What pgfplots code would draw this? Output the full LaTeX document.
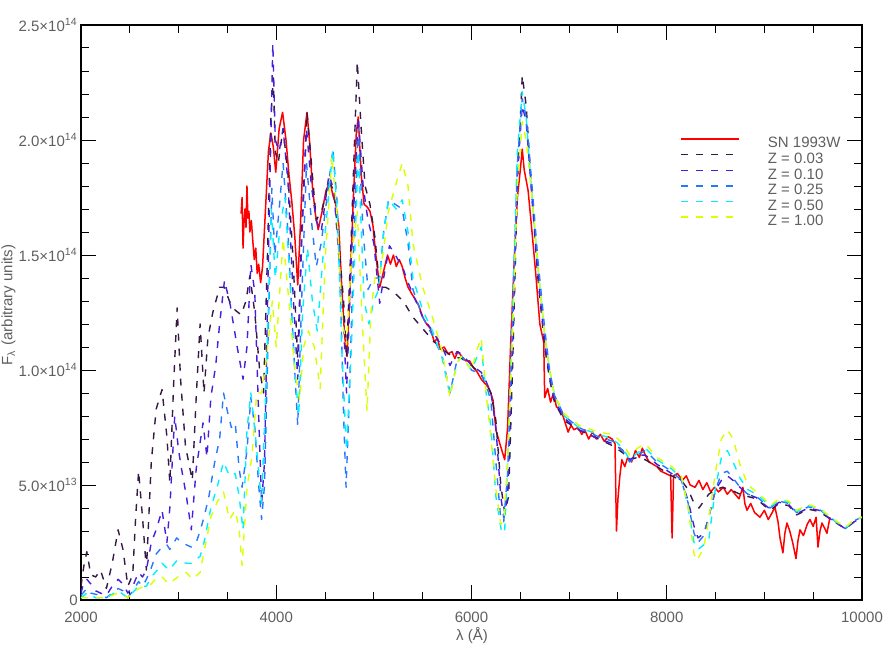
\documentclass[border=0pt]{standalone}
\usepackage{fontspec}
\setmainfont{Liberation Sans}
\usepackage{pgfplots}
\pgfplotsset{compat=1.18}
\usepackage{pgfplotstable}
\usetikzlibrary{calc}

\definecolor{tgray}{RGB}{95,95,95}
\definecolor{snred}{RGB}{255,0,0}
\definecolor{zA}{RGB}{55,25,70}
\definecolor{zB}{RGB}{70,30,220}
\definecolor{zC}{RGB}{40,120,255}
\definecolor{zD}{RGB}{0,240,255}
\definecolor{zE}{RGB}{220,255,0}
\newcommand{\fs}{\fontsize{7.5}{9}\selectfont}

% flux in units of 1e13
\pgfplotstableread{
lam f
3640 16.8
3650 17.5
3660 15.3
3670 16.5
3680 17.0
3690 16.2
3700 18.0
3710 16.6
3720 16.9
3730 16.0
3745 16.5
3760 15.6
3775 14.8
3790 15.3
3805 14.2
3820 14.6
3840 13.8
3860 14.5
3890 17.0
3920 19.5
3945 20.3
3970 19.7
3995 18.6
4030 20.5
4065 21.2
4100 20.0
4130 18.5
4160 17.3
4190 15.8
4220 13.7
4250 16.5
4280 20.0
4315 21.2
4340 20.0
4370 18.0
4400 16.8
4430 16.1
4470 16.9
4510 17.8
4550 18.2
4580 17.6
4610 17.2
4640 16.3
4670 13.7
4700 11.5
4725 10.6
4750 13.0
4790 17.5
4820 20.3
4840 21.0
4870 18.5
4900 17.2
4930 17.1
4960 16.9
4990 16.3
5020 15.0
5060 13.6
5100 14.3
5140 15.0
5170 14.6
5200 15.0
5230 14.5
5260 14.8
5290 14.5
5320 14.0
5350 13.6
5390 13.3
5420 13.1
5460 12.8
5500 12.3
5540 12.0
5580 11.8
5620 11.2
5650 11.4
5680 10.9
5720 11.0
5760 10.7
5800 10.8
5830 10.5
5860 10.8
5900 10.6
5940 10.4
5980 10.4
6020 10.1
6060 9.9
6100 9.6
6140 9.4
6180 9.2
6220 8.7
6250 7.4
6290 6.8
6340 6.1
6370 7.5
6400 11.0
6440 15.0
6470 17.5
6500 18.7
6520 19.6
6540 18.7
6580 17.8
6620 16.0
6660 14.1
6700 12.0
6740 11.2
6750 8.8
6780 9.2
6810 8.6
6840 9.0
6870 8.4
6900 8.3
6930 8.1
6960 7.7
6990 7.3
7020 7.6
7050 7.4
7090 7.5
7130 7.2
7160 7.4
7200 7.0
7240 7.3
7280 7.0
7320 7.2
7360 6.9
7400 7.1
7440 7.0
7470 6.8
7485 3.0
7500 4.4
7520 5.4
7540 6.1
7570 5.8
7600 6.2
7640 6.0
7680 6.5
7720 6.2
7750 6.6
7780 6.3
7820 6.0
7860 5.9
7900 5.8
7940 5.6
7990 5.5
8040 5.4
8055 2.7
8070 5.4
8110 5.5
8160 5.2
8200 5.4
8240 5.0
8290 4.9
8330 5.2
8370 4.8
8410 5.1
8450 4.7
8490 4.9
8530 4.7
8580 4.9
8620 4.6
8660 4.8
8700 4.6
8740 4.4
8780 4.9
8800 4.2
8822 3.9
8860 4.2
8900 3.8
8955 3.6
9000 3.9
9040 3.5
9080 3.8
9108 4.05
9140 3.4
9160 2.7
9190 2.05
9210 2.9
9231 3.35
9260 3.0
9290 2.5
9324 1.8
9345 2.6
9365 3.05
9400 2.8
9440 3.3
9467 3.5
9500 3.2
9530 3.6
9549 2.3
9570 3.0
9590 3.35
9620 3.1
9641 2.9
9672 3.6
}\snobs

\pgfplotstableread{
lam f
2000 0.6
2030 1.5
2060 2.1
2100 1.1
2150 1.0
2200 1.3
2260 0.5
2320 1.6
2380 3.05
2430 2.2
2480 0.6
2530 1.1
2560 3.6
2590 5.6
2630 3.6
2670 1.3
2720 6.0
2770 8.3
2830 9.15
2880 7.1
2910 5.1
2950 9.5
2985 12.7
3020 9.6
3070 6.7
3140 5.2
3180 8.8
3220 12.0
3260 9.0
3300 11.4
3350 12.5
3420 13.6
3470 13.6
3520 13.0
3580 12.6
3640 12.4
3690 13.0
3730 14.1
3780 12.5
3830 10.0
3870 9.0
3910 15.0
3945 21.0
3970 22.7
3990 19.5
4020 19.0
4070 20.5
4120 18.5
4170 15.0
4220 10.5
4260 16.0
4315 21.2
4360 19.0
4410 16.5
4470 17.0
4540 18.2
4590 17.8
4640 15.5
4690 13.0
4720 10.5
4770 16.0
4830 23.4
4870 20.5
4910 18.0
4960 17.2
5010 15.8
5060 13.6
5120 13.6
5200 13.4
5300 13.0
5400 12.3
5500 11.8
5600 11.3
5700 10.9
5800 10.6
5900 10.5
6000 10.2
6100 9.8
6150 9.4
6200 9.0
6250 7.8
6300 5.0
6340 3.8
6380 4.5
6420 10.0
6470 18.0
6520 22.8
6560 21.5
6620 17.5
6680 14.0
6750 11.0
6800 9.6
6850 8.6
6950 7.8
7100 7.4
7300 7.0
7450 6.7
7550 6.4
7620 6.1
7700 6.2
7780 6.1
7900 5.8
8050 5.4
8150 5.2
8220 4.8
8280 4.2
8330 4.0
8380 4.3
8430 4.6
8500 4.8
8570 4.9
8650 4.8
8750 4.6
8830 4.5
8920 4.4
9000 4.1
9060 3.9
9150 4.2
9250 4.1
9330 3.7
9450 3.95
9560 3.85
9700 3.45
9830 3.1
9920 3.4
10000 3.6
}\zthree

\pgfplotstableread{
lam f
2000 0.3
2030 0.8
2060 0.9
2100 0.7
2150 0.4
2200 0.3
2260 0.2
2320 0.6
2380 0.9
2430 0.7
2480 0.3
2530 0.6
2590 1.2
2630 1.0
2670 1.3
2720 2.5
2770 3.05
2830 3.9
2880 2.5
2910 4.0
2960 8.0
3000 6.5
3030 5.7
3080 4.5
3130 3.05
3180 5.7
3250 7.7
3290 6.2
3330 8.8
3380 10.2
3420 12.0
3470 13.9
3530 12.8
3600 11.0
3660 9.6
3700 11.0
3740 14.6
3780 13.4
3820 8.0
3850 4.2
3880 6.0
3920 15.0
3965 24.2
3990 20.0
4030 19.5
4070 20.5
4120 18.2
4170 13.5
4220 9.6
4260 15.5
4310 20.5
4360 18.0
4410 16.5
4460 16.0
4540 18.5
4590 17.8
4640 15.0
4690 12.0
4720 9.0
4770 15.0
4840 21.0
4890 18.0
4940 16.5
5000 15.5
5060 12.9
5100 14.0
5160 15.4
5220 15.0
5300 14.4
5350 13.8
5400 13.3
5500 12.3
5600 11.7
5700 11.0
5780 10.2
5850 10.8
5900 10.7
6000 10.2
6100 9.9
6150 9.5
6200 9.0
6250 7.5
6300 4.5
6330 3.6
6370 4.5
6420 11.0
6470 18.5
6520 21.5
6560 20.8
6620 17.5
6680 14.2
6750 11.2
6800 9.7
6850 8.7
6950 7.9
7100 7.4
7300 7.0
7450 6.8
7550 6.5
7620 6.1
7700 6.3
7780 6.3
7900 5.9
8050 5.5
8150 5.2
8220 4.3
8280 3.2
8320 2.7
8380 2.9
8430 3.6
8500 4.8
8560 5.2
8620 5.4
8680 5.2
8750 4.9
8830 4.6
8920 4.45
9000 4.15
9060 3.95
9150 4.25
9250 4.15
9330 3.75
9450 4.0
9560 3.9
9700 3.45
9830 3.1
9920 3.4
10000 3.6
}\zten

\pgfplotstableread{
lam f
2000 0.2
2060 0.5
2100 0.3
2200 0.2
2260 0.1
2320 0.3
2380 0.5
2430 0.4
2480 0.1
2530 0.4
2590 0.8
2630 0.6
2670 0.9
2720 1.4
2770 2.0
2830 2.3
2880 2.4
2910 2.2
2980 2.7
3030 2.5
3080 2.4
3130 2.3
3180 2.5
3220 3.0
3260 3.6
3310 4.5
3370 6.0
3420 7.0
3460 9.0
3500 8.2
3540 7.5
3580 7.7
3620 5.7
3650 4.9
3700 6.5
3740 8.8
3780 7.5
3820 5.0
3850 3.5
3880 5.0
3920 12.0
3955 17.9
3985 15.0
4030 17.0
4070 19.0
4120 16.0
4170 11.5
4220 7.6
4260 13.0
4310 19.0
4360 16.5
4410 14.5
4460 15.5
4520 17.5
4580 19.6
4620 17.5
4660 13.0
4690 8.0
4715 4.9
4750 9.0
4790 15.0
4840 20.5
4890 16.0
4940 13.5
5000 14.0
5060 14.0
5100 16.0
5150 17.4
5220 17.2
5290 17.0
5350 15.5
5400 13.5
5500 12.3
5600 11.5
5700 10.6
5780 9.0
5850 10.4
5900 10.6
6000 10.0
6100 9.8
6150 9.4
6200 8.6
6250 6.0
6300 3.5
6330 3.4
6370 5.5
6420 12.0
6470 19.0
6520 21.8
6560 21.0
6620 18.0
6680 14.8
6750 11.8
6800 10.0
6850 8.9
6950 8.0
7100 7.5
7300 7.1
7450 6.9
7550 6.5
7620 6.0
7700 6.3
7780 6.5
7900 6.0
8050 5.6
8150 5.2
8220 4.2
8280 2.9
8320 2.5
8380 2.8
8430 3.6
8500 4.8
8560 5.5
8620 5.6
8680 5.3
8750 4.9
8830 4.6
8920 4.5
9000 4.2
9060 4.0
9150 4.3
9250 4.2
9330 3.8
9450 4.05
9560 3.95
9700 3.5
9830 3.1
9920 3.45
10000 3.6
}\zquarter

\pgfplotstableread{
lam f
2000 0.1
2060 0.3
2150 0.1
2260 0.1
2380 0.4
2480 0.1
2590 0.6
2670 0.6
2720 1.0
2780 1.3
2830 1.6
2900 1.3
2980 1.7
3080 1.6
3130 1.6
3220 1.9
3260 2.5
3330 4.0
3400 5.0
3460 6.0
3520 5.4
3580 5.5
3620 4.5
3660 3.05
3700 7.4
3740 9.0
3790 7.0
3850 4.2
3900 10.0
3950 17.0
3990 14.0
4040 16.3
4090 17.5
4140 14.0
4190 10.0
4230 8.0
4270 12.5
4320 15.3
4370 13.0
4420 11.7
4480 15.0
4580 19.6
4630 16.5
4670 11.0
4720 6.5
4770 11.0
4840 19.5
4900 13.0
4950 12.0
5000 13.0
5050 13.5
5100 16.0
5150 17.4
5230 17.0
5290 17.4
5350 16.0
5400 14.0
5500 12.6
5600 11.7
5700 10.5
5780 8.9
5850 10.3
5900 10.6
6000 10.0
6050 10.5
6100 11.0
6150 9.0
6200 7.5
6250 4.5
6310 2.9
6340 3.0
6370 6.0
6420 12.5
6470 19.5
6520 22.1
6560 21.0
6620 17.5
6680 14.5
6750 11.5
6800 10.0
6850 8.9
6950 8.0
7100 7.5
7300 7.2
7450 7.0
7550 6.6
7620 6.1
7700 6.4
7780 6.6
7900 6.1
8050 5.7
8150 5.3
8220 4.0
8280 2.5
8320 2.2
8380 2.4
8430 2.6
8500 4.9
8560 6.2
8620 6.5
8680 6.0
8750 5.3
8830 4.8
8920 4.6
9000 4.3
9060 4.05
9150 4.35
9250 4.25
9330 3.85
9450 4.1
9560 4.0
9700 3.5
9830 3.15
9920 3.45
10000 3.6
}\zhalf

\pgfplotstableread{
lam f
2000 0.1
2100 0.1
2260 0.1
2380 0.3
2480 0.1
2590 0.5
2720 0.7
2780 1.0
2830 1.0
2900 0.7
2990 1.0
3080 1.2
3140 0.9
3220 1.2
3270 2.3
3330 3.6
3400 4.3
3460 4.7
3520 3.5
3580 3.9
3620 3.05
3650 1.5
3700 4.9
3750 6.2
3800 9.0
3850 9.0
3900 10.5
3960 13.0
4000 11.0
4070 15.7
4130 13.0
4190 10.0
4240 8.7
4280 11.0
4330 11.7
4390 11.0
4450 9.2
4500 14.7
4570 19.3
4620 16.9
4680 12.0
4720 11.1
4770 14.9
4830 16.9
4880 12.2
4930 8.2
4970 12.5
5010 14.0
5060 14.0
5150 16.9
5220 18.0
5290 19.0
5350 18.0
5400 15.5
5500 13.6
5600 12.3
5700 10.8
5780 8.8
5850 10.3
5900 10.6
6000 10.0
6050 10.8
6100 11.4
6150 9.0
6200 7.0
6250 4.8
6300 3.3
6330 3.4
6370 6.0
6420 11.5
6470 18.0
6520 20.8
6560 20.0
6620 17.5
6680 14.5
6750 11.5
6800 10.0
6850 8.9
6950 8.1
7100 7.6
7300 7.3
7450 7.2
7550 6.8
7620 6.3
7700 6.6
7780 6.8
7900 6.2
8050 5.8
8150 5.4
8220 4.0
8280 2.0
8310 1.7
8380 2.3
8430 3.5
8500 5.6
8560 7.0
8620 7.4
8680 7.0
8750 5.9
8830 5.0
8920 4.7
9000 4.4
9060 4.1
9150 4.4
9250 4.3
9330 3.9
9450 4.15
9560 4.0
9700 3.55
9830 3.15
9920 3.5
10000 3.6
}\zone

\begin{document}
\begin{tikzpicture}
\begin{axis}[
    scale only axis,
    width=390.5pt, height=287.5pt,
    xmin=2000, xmax=10000,
    ymin=0, ymax=25,
    scaled ticks=false,
    xtick={2000,4000,6000,8000,10000},
    xticklabels={2000,4000,6000,8000,10000},
    minor x tick num=3,
    ytick={0,5,10,15,20,25},
    yticklabels={0,
        5.0×10\textsuperscript{13},
        1.0×10\textsuperscript{14},
        1.5×10\textsuperscript{14},
        2.0×10\textsuperscript{14},
        2.5×10\textsuperscript{14}},
    minor y tick num=4,
    tick align=inside,
    tick pos=both,
    major tick length=7.5pt,
    minor tick length=3.8pt,
    tick style={black, line width=0.5pt},
    axis line style={black, line width=0.6pt},
    ticklabel style={font=\fs, text=tgray},
    xticklabel style={yshift=-2.5pt},
    yticklabel style={inner xsep=1.5pt},
    legend cell align=left,
    legend style={draw=none, fill=none,
        at={(rel axis cs:0.767,0.8066)}, anchor=north west,
        inner sep=0pt, row sep=0pt, font=\fs, text=tgray,
        nodes={inner sep=0pt, text height=5.6pt, text depth=2.2pt},
        /tikz/every odd column/.style={column sep=14pt}},
    legend image code/.code={\draw[#1] (0pt,2.7pt) -- (29pt,2.7pt);},
    every axis plot/.append style={no markers, line join=round},
]
\addplot[snred, line width=0.75pt] table[x=lam, y=f] {\snobs};
\addlegendentry{SN 1993W}
\addplot[zA, line width=0.7pt, dash pattern=on 3.5pt off 4pt] table[x=lam, y=f] {\zthree};
\addlegendentry{Z = 0.03}
\addplot[zB, line width=0.7pt, dash pattern=on 3.5pt off 4pt] table[x=lam, y=f] {\zten};
\addlegendentry{Z = 0.10}
\addplot[zC, line width=0.7pt, dash pattern=on 3.5pt off 4pt] table[x=lam, y=f] {\zquarter};
\addlegendentry{Z = 0.25}
\addplot[zD, line width=0.7pt, dash pattern=on 3.5pt off 4pt] table[x=lam, y=f] {\zhalf};
\addlegendentry{Z = 0.50}
\addplot[zE, line width=0.7pt, dash pattern=on 3.5pt off 4pt] table[x=lam, y=f] {\zone};
\addlegendentry{Z = 1.00}
\coordinate (O) at (rel axis cs:0,0);
\end{axis}
\node[rotate=90, anchor=base, font=\fs, text=tgray] at ($(O)+(-34.3pt,147.5pt)$) {F\textsubscript{λ} (arbitrary units)};
\node[anchor=center, font=\fs, text=tgray] at ($(O)+(195.5pt,-18pt)$) {λ (Å)};
\pgfresetboundingbox
\useasboundingbox ($(O)+(-40.5pt,-27pt)$) rectangle ($(O)+(403pt,300pt)$);
\end{tikzpicture}
\end{document}
